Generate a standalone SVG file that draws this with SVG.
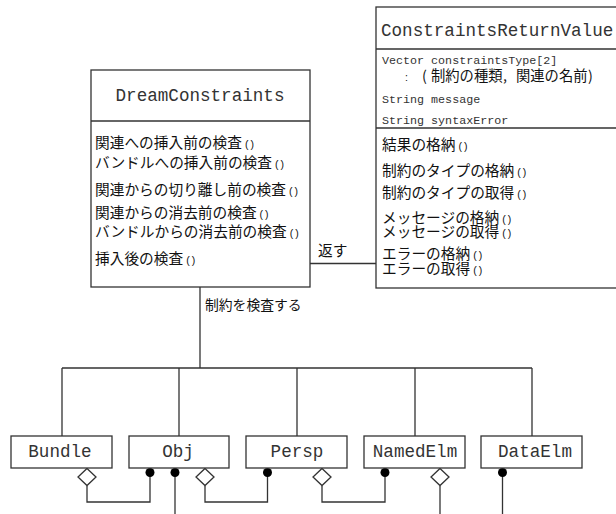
<svg xmlns="http://www.w3.org/2000/svg" width="616" height="514" viewBox="0 0 616 514">
<style>
.box{fill:#fff;stroke:#333;stroke-width:1.3}
.ln{fill:none;stroke:#333;stroke-width:1.3}
.mono{font-family:"Liberation Mono","DejaVu Sans Mono",monospace;fill:#333}
.cls{font-size:17.6px}
.attr{font-size:11.7px}
.jp{font-family:"Noto Sans CJK JP","Noto Sans",sans-serif;font-size:14.7px;fill:#111}
.p{font-family:"Liberation Sans","Noto Sans",sans-serif;font-size:10.5px;letter-spacing:2px}
.dia{fill:#fff;stroke:#333;stroke-width:1.3}
.dot{fill:#000}
</style>
<rect width="616" height="514" fill="#fff"/>
<g id="connectors">
<path class="ln" d="M310,263.5 H376"/>
<text class="jp" x="318" y="255.5">返す</text>
<path class="ln" d="M200,287 V368 M62,368 H532 M62,368 V436 M179,368 V436 M297,368 V436 M415,368 V436 M532,368 V436"/>
<text class="jp" x="205" y="309.5" style="font-size:13.8px">制約を検査する</text>
<path class="ln" d="M87,486 V502 H150 V473"/>
<path class="ln" d="M175,473 V514"/>
<path class="ln" d="M205,486 V502 H267.5 V473"/>
<path class="ln" d="M322,486 V502 H385 V473"/>
<path class="ln" d="M440,486 V514"/>
<path class="ln" d="M502.5,473 V514"/>
<polygon class="dia" points="87,468.5 96,477 87,485.5 78,477"/>
<polygon class="dia" points="205,468.5 214,477 205,485.5 196,477"/>
<polygon class="dia" points="322,468.5 331,477 322,485.5 313,477"/>
<polygon class="dia" points="440,468.5 449,477 440,485.5 431,477"/>
<circle class="dot" cx="150" cy="472.5" r="4.5"/>
<circle class="dot" cx="175" cy="472.5" r="4.5"/>
<circle class="dot" cx="267.5" cy="472.5" r="4.5"/>
<circle class="dot" cx="385" cy="472.5" r="4.5"/>
<circle class="dot" cx="502.5" cy="472.5" r="4.5"/>
</g>
<g id="DreamConstraints">
<rect class="box" x="91" y="70" width="219" height="217"/>
<path class="ln" d="M91,121 H310"/>
<text class="mono cls" x="200" y="101" text-anchor="middle">DreamConstraints</text>
<text class="jp" x="95" y="147.5">関連への挿入前の検査<tspan class="p" dx="3">()</tspan></text>
<text class="jp" x="95" y="167.5">バンドルへの挿入前の検査<tspan class="p" dx="3">()</tspan></text>
<text class="jp" x="95" y="194.5">関連からの切り離し前の検査<tspan class="p" dx="3">()</tspan></text>
<text class="jp" x="95" y="217.5">関連からの消去前の検査<tspan class="p" dx="3">()</tspan></text>
<text class="jp" x="95" y="236.5">バンドルからの消去前の検査<tspan class="p" dx="3">()</tspan></text>
<text class="jp" x="95" y="263.5">挿入後の検査<tspan class="p" dx="3">()</tspan></text>
</g>
<g id="ConstraintsReturnValue">
<rect class="box" x="376" y="7" width="260" height="281"/>
<path class="ln" d="M376,49 H616 M376,128 H616"/>
<text class="mono cls" x="381" y="36">ConstraintsReturnValue</text>
<text class="mono attr" x="382" y="64">Vector constraintsType[2]</text>
<text class="jp" style="font-size:14.3px" y="80.5"><tspan class="p" x="405">:</tspan><tspan x="422">(</tspan><tspan x="431">制約の種類</tspan><tspan x="503">,</tspan><tspan x="516">関連の名前</tspan><tspan x="588">)</tspan></text>
<text class="mono attr" x="382" y="103">String message</text>
<text class="mono attr" x="382" y="124">String syntaxError</text>
<text class="jp" x="382" y="149.5">結果の格納<tspan class="p" dx="3">()</tspan></text>
<text class="jp" x="382" y="175.5">制約のタイプの格納<tspan class="p" dx="3">()</tspan></text>
<text class="jp" x="382" y="197.5">制約のタイプの取得<tspan class="p" dx="3">()</tspan></text>
<text class="jp" x="382" y="223">メッセージの格納<tspan class="p" dx="3">()</tspan></text>
<text class="jp" x="382" y="236.5">メッセージの取得<tspan class="p" dx="3">()</tspan></text>
<text class="jp" x="382" y="258.5">エラーの格納<tspan class="p" dx="3">()</tspan></text>
<text class="jp" x="382" y="273.5">エラーの取得<tspan class="p" dx="3">()</tspan></text>
</g>
<g id="Bundle">
<rect class="box" x="11" y="436" width="101" height="32"/>
<text class="mono cls" x="60" y="457" text-anchor="middle">Bundle</text>
</g>
<g id="Obj">
<rect class="box" x="129" y="436" width="100" height="32"/>
<text class="mono cls" x="178" y="457" text-anchor="middle">Obj</text>
</g>
<g id="Persp">
<rect class="box" x="246" y="436" width="101" height="32"/>
<text class="mono cls" x="297" y="457" text-anchor="middle">Persp</text>
</g>
<g id="NamedElm">
<rect class="box" x="364" y="436" width="101" height="32"/>
<text class="mono cls" x="415" y="457" text-anchor="middle">NamedElm</text>
</g>
<g id="DataElm">
<rect class="box" x="481" y="436" width="101" height="32"/>
<text class="mono cls" x="535" y="457" text-anchor="middle">DataElm</text>
</g>
</svg>
